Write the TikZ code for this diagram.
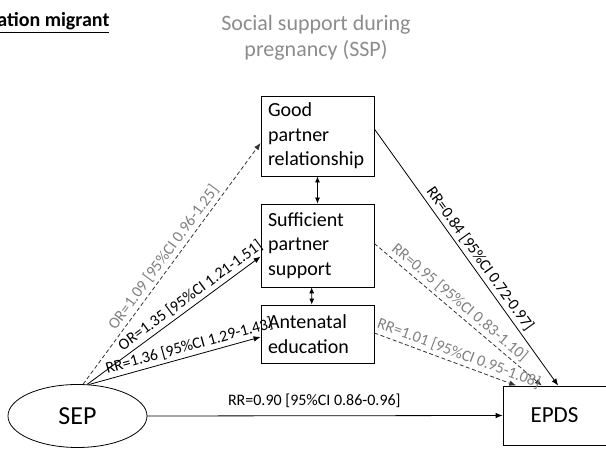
\documentclass[tikz,border=0pt]{standalone}
\usepackage{fontspec}
\setmainfont{Carlito}
\usetikzlibrary{arrows.meta,shapes}

\begin{document}
\begin{tikzpicture}[x=1pt,y=-1pt,
    box/.style={draw, line width=0.8pt, text width=99pt, inner sep=7pt, align=left, font=\fontsize{20}{24.5}\selectfont},
    arr/.style={line width=0.8pt, -{Latex[length=7pt,width=5.5pt]}},
    dbl/.style={line width=0.8pt, {Latex[length=6pt,width=5pt]}-{Latex[length=6pt,width=5pt]}},
    dsh/.style={arr, draw=black!80, dash pattern=on 4pt off 2.5pt},
    lbl/.style={font=\fontsize{16}{18}\selectfont, sloped, above, inner sep=3pt},
    glbl/.style={lbl, text=black!50}]
                \useasboundingbox (0,0) rectangle (606,449);
                % titles
                \node [anchor=base east, font=\fontsize{20}{24}\selectfont\bfseries] (hdr) at (113,27) {\underline{ation migrant}};
                \node [align=center, text=black!45, font=\fontsize{22}{26.5}\selectfont] (ssp) at (316,38) {Social support during\\pregnancy (SSP)};
                % boxes
                \node [box, minimum height=80pt] (good) at (317.5,136) {Good\\partner\\relationship};
                \node [box, minimum height=83pt] (suff) at (317.5,245.5) {Sufficient\\partner\\support};
                \node [box, minimum height=58pt] (ant) at (317.5,334) {Antenatal\\education};
                \node [draw, ellipse, line width=0.8pt, inner sep=0pt, minimum width=139pt, minimum height=63pt, font=\fontsize{26}{30}\selectfont] (sep) at (77.5,416) {SEP};
                \node [draw, line width=0.8pt, minimum width=103pt, minimum height=59pt, font=\fontsize{23}{27}\selectfont] (epds) at (554.5,415.5) {EPDS};
                % SEP to SSP
                \draw [dsh] (sep.80) -- (good.187) node [glbl, pos=0.5] {OR=1.09 [95\%CI 0.96-1.25]};
                \draw [arr] (sep.73) -- (suff.191) node [lbl, pos=0.63] {OR=1.35 [95\%CI 1.21-1.51]};
                \draw [arr] (sep.70) -- (ant.183) node [lbl, pos=0.6] {RR=1.36 [95\%CI 1.29-1.43]};
                % to EPDS
                \draw [arr] (sep.east) -- (epds.west) node [lbl, pos=0.47, above=5pt] {RR=0.90 [95\%CI 0.86-0.96]};
                \draw [arr] (good.7) -- (epds.83) node [lbl, pos=0.53] {RR=0.84 [95\%CI 0.72-0.97]};
                \draw [dsh] (suff.2) -- (epds.113) node [glbl, pos=0.47] {RR=0.95 [95\%CI 0.83-1.10]};
                \draw [dsh] (ant.1) -- (epds.142) node [glbl, pos=0.57] {RR=1.01 [95\%CI 0.95-1.08]};
                % between SSP boxes
                \draw [dbl] (good.south) -- (suff.north);
                \draw [dbl] (suff.262) -- (ant.101);
\end{tikzpicture}
\end{document}
